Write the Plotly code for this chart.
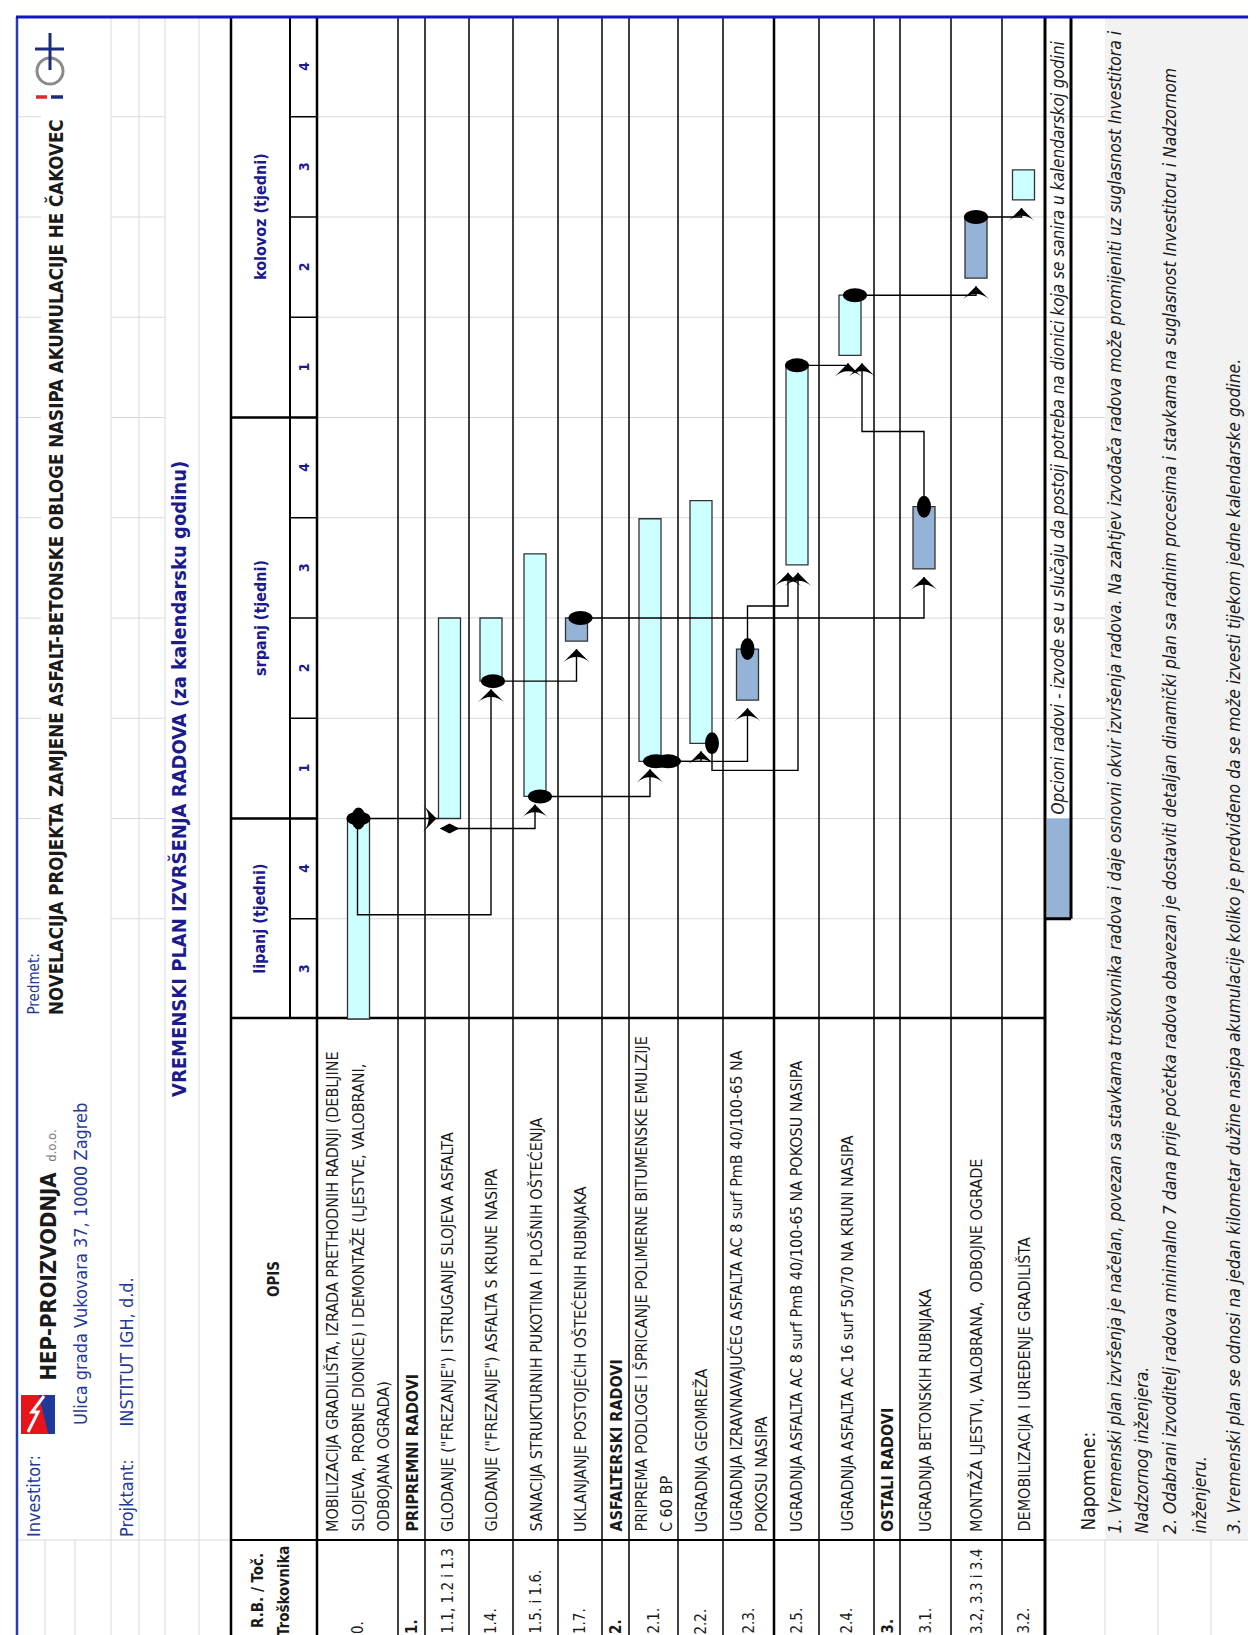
import plotly.graph_objects as go

# ---------------------------------------------------------------- data
months = ['lipanj (tjedni)', 'srpanj (tjedni)', 'kolovoz (tjedni)']
month_weeks = [[3, 4], [1, 2, 3, 4], [1, 2, 3, 4]]

row_codes = ['0.', '1.', '1.1, 1.2 i 1.3', '1.4.', '1.5. i 1.6.', '1.7.', '2.', '2.1.',
             '2.2.', '2.3.', '2.5.', '2.4.', '3.', '3.1.', '3.2, 3.3 i 3.4', '3.2.']
row_text = [
    ['MOBILIZACIJA GRADILIŠTA, IZRADA PRETHODNIH RADNJI (DEBLJINE',
     'SLOJEVA, PROBNE DIONICE) I DEMONTAŽE (LJESTVE, VALOBRANI,',
     'ODBOJANA OGRADA)'],
    ['PRIPREMNI RADOVI'],
    ['GLODANJE ("FREZANJE") I STRUGANJE SLOJEVA ASFALTA'],
    ['GLODANJE ("FREZANJE") ASFALTA S KRUNE NASIPA'],
    ['SANACIJA STRUKTURNIH PUKOTINA I PLOŠNIH OŠTEĆENJA'],
    ['UKLANJANJE POSTOJEĆIH OŠTEĆENIH RUBNJAKA'],
    ['ASFALTERSKI RADOVI'],
    ['PRIPREMA PODLOGE I ŠPRICANJE POLIMERNE BITUMENSKE EMULZIJE', 'C 60 BP'],
    ['UGRADNJA GEOMREŽA'],
    ['UGRADNJA IZRAVNAVAJUĆEG ASFALTA AC 8 surf PmB 40/100-65 NA', 'POKOSU NASIPA'],
    ['UGRADNJA ASFALTA AC 8 surf PmB 40/100-65 NA POKOSU NASIPA'],
    ['UGRADNJA ASFALTA AC 16 surf 50/70 NA KRUNI NASIPA'],
    ['OSTALI RADOVI'],
    ['UGRADNJA BETONSKIH RUBNJAKA'],
    ['MONTAŽA LJESTVI, VALOBRANA,  ODBOJNE OGRADE'],
    ['DEMOBILIZACIJA I UREĐENJE GRADILIŠTA'],
]
row_group = [False, True, False, False, False, False, True, False,
             False, False, False, False, True, False, False, False]

# bar start / end in weeks counted from the start of lipanj week 3
bar_start = [0.0, None, 2.0, 3.37, 2.22, 3.77, None, 2.57, 2.75, 3.18, 4.53, 6.62, None, 4.49, 7.39, 8.17]
bar_end = [2.0, None, 4.0, 4.0, 4.64, 4.0, None, 4.99, 5.17, 3.69, 6.52, 7.22, None, 5.11, 8.0, 8.47]
optional = [False, False, False, False, False, True, False, False,
            False, True, False, False, False, True, True, False]

# dependencies: predecessor row, which end of it, successor row
link_src = [0, 0, 2, 3, 4, 5, 7, 7, 8, 9, 10, 13, 11, 14]
link_from = ['end', 'end', 'start', 'start', 'start', 'end', 'start', 'start',
             'start', 'end', 'end', 'end', 'end', 'end']
link_dst = [2, 3, 4, 5, 7, 13, 8, 9, 10, 10, 11, 11, 14, 15]

notes = [
    '1. Vremenski plan izvršenja je načelan, povezan sa stavkama troškovnika radova i daje osnovni okvir izvršenja radova. Na zahtjev izvođača radova može promijeniti uz suglasnost Investitora i',
    'Nadzornog inženjera.',
    '2. Odabrani izvoditelj radova minimalno 7 dana prije početka radova obavezan je dostaviti detaljan dinamički plan sa radnim procesima i stavkama na suglasnost Investitoru i Nadzornom',
    'inženjeru.',
    '3. Vremenski plan se odnosi na jedan kilometar dužine nasipa akumulacije koliko je predviđeno da se može izvesti tijekom jedne kalendarske godine.',
]
legend_text = 'Opcioni radovi - izvode se u slučaju da postoji potreba na dionici koja se sanira u kalendarskoj godini'
title = 'VREMENSKI PLAN IZVRŠENJA RADOVA (za kalendarsku godinu)'
subject = 'NOVELACIJA PROJEKTA ZAMJENE ASFALT-BETONSKE OBLOGE NASIPA AKUMULACIJE HE ČAKOVEC'

# ---------------------------------------------------------------- layout geometry (pixels)
W, H = 1256, 1635
Y0, WPX = 1011, 100.25           # pixel row of week 0 and pixels per week
FONT = 'Liberation Sans Narrow, Arial Narrow, DejaVu Sans Condensed, Liberation Sans, sans-serif'
NAVY = '#1b1b8f'
BLUE = '#1f3a99'
INK = '#1a1a1a'
GRID = '#d9d9d9'
LIGHT = '#ccffff'
OPT = '#95b3d7'

row_edges = [309, 390, 417, 461, 505, 550, 594, 621, 670, 715, 766, 811, 866, 892, 943, 994, 1037]
bar_x = [350.5, None, 441.5, 483, 527, 568.5, None, 642, 693, 739.5, 789, 842, None, 916, 968, 1015.5]
routes = [
    dict(side=True, dot='hv'),
    dict(bend=1.04, sx=-1),
    dict(sdy=-0.1, dot='d'),
    dict(sx=2, dot='h'),
    dict(sx=5, dot='h'),
    dict(sx=4, dot='h'),
    dict(sx=8, dot='hh'),
    dict(sx=8),
    dict(sx=11, bend=2.48, dx=1, dot='v'),
    dict(bend=4.12, dx=-9, dot='v'),
    dict(dx=-2, dot='h'),
    dict(bend=5.86, dx=12, dot='v'),
    dict(sx=5, dot='h'),
    dict(dx=-2, dot='h'),
]


def px(x):
    return x / W


def py(y):
    return 1 - y / H


shapes = []
annotations = []


def line(x0, y0, x1, y1, color='black', width=1.5):
    shapes.append(dict(type='line', xref='paper', yref='paper', x0=px(x0), y0=py(y0),
                       x1=px(x1), y1=py(y1), line=dict(color=color, width=width), layer='below'))


def rect(x0, y0, x1, y1, fill, color=None, width=0):
    shapes.append(dict(type='rect', xref='paper', yref='paper', x0=px(x0), y0=py(y0),
                       x1=px(x1), y1=py(y1), fillcolor=fill, layer='below',
                       line=dict(color=color or fill, width=width)))


def vtext(x, y, text, size=14, color=INK, anchor='bottom', bold=False, italic=False, bg=None):
    annotations.append(dict(
        x=px(x), y=py(y), xref='paper', yref='paper', text=text, textangle=-90,
        xanchor='center', yanchor=anchor, showarrow=False, bgcolor=bg, borderpad=0,
        font=dict(family=FONT, size=size, color=color,
                  weight='bold' if bold else 'normal',
                  style='italic' if italic else 'normal')))


# ---------------------------------------------------------------- background, gridlines
rect(1097, 10, W, 1532, '#f2f2f2')
for gx in [103, 131, 157, 191]:
    line(gx, 10, gx, H, GRID, 1)
for gx in [37, 67, 1097, 1150, 1203]:
    line(gx, 1532, gx, H, GRID, 1)
line(10, 1532, 223, 1532, GRID, 1)
line(1037, 1532, W, 1532, GRID, 1)
for k in range(1, 11):
    yk = Y0 - k * WPX
    line(10, yk, 33, yk, GRID, 1)
    line(103, yk, 157, yk, GRID, 1)
for k in range(1, 10):
    yk = Y0 - k * WPX
    line(309, yk, 1097, yk, GRID, 1.2)

# ---------------------------------------------------------------- table frame
line(223, 10, 223, H, 'black', 2.5)
line(282, 10, 282, 1010, 'black', 2)
line(309, 10, 309, H, 'black', 2.5)
for e in row_edges[1:-1]:
    line(e, 10, e, H, 'black', 2.5 if e == 766 else 1.5)
line(1037, 10, 1037, H, 'black', 3)
line(223, 1010, 1037, 1010, 'black', 2.5)
line(223, 1532, 1037, 1532, 'black', 2)
for k in range(1, 10):
    yk = Y0 - k * WPX
    if k in (2, 6):
        line(223, yk, 309, yk, 'black', 2.5)
    else:
        line(282, yk, 309, yk, 'black', 1.5)

# legend for optional works
rect(1039, Y0 - 2 * WPX, 1062, Y0 - WPX, OPT)
line(1063, 10, 1063, Y0 - WPX, 'black', 3)
line(1037, Y0 - WPX, 1063, Y0 - WPX, 'black', 3)
vtext(1050, Y0 - 2 * WPX - 3, legend_text, size=17, italic=True)

# page border
line(9, 9, 9, H, '#2a3bb0', 2.5)
line(8, 9, W, 9, '#1414c8', 3)

# ---------------------------------------------------------------- header column texts
k0 = 0
for m, weeks in zip(months, month_weeks):
    ymid = Y0 - (k0 + len(weeks) / 2) * WPX
    vtext(252, ymid, m, size=16, color=NAVY, anchor='middle', bold=True)
    for j, w in enumerate(weeks):
        vtext(296, Y0 - (k0 + j + 0.5) * WPX, str(w), size=14, color=NAVY, anchor='middle', bold=True)
    k0 += len(weeks)
vtext(266, 1271, 'OPIS', size=15, anchor='middle', bold=True)
vtext(250, 1583, 'R.B. / Toč.', size=15, anchor='middle', bold=True)
vtext(276, 1583, 'Troškovnika', size=15, anchor='middle', bold=True)

for i, lines_ in enumerate(row_text):
    c = (row_edges[i] + row_edges[i + 1]) / 2
    n = len(lines_)
    for k, t in enumerate(lines_):
        vtext(c + (k - (n - 1) / 2) * 25, 1525, t, size=16, bold=row_group[i])
    vtext(c, 1627, row_codes[i], size=15, bold=row_group[i])

# ---------------------------------------------------------------- page header
vtext(25, 1530, 'Investitor:', size=18, color=BLUE, bg='white')
vtext(118, 1530, 'Projktant:', size=18, color=BLUE, bg='white')
vtext(40, 1374, 'HEP-PROIZVODNJA <span style="font-size:13px;color:#777;font-weight:normal"> d.o.o.</span>',
      size=22, bold=True, bg='white')
vtext(72, 1418, 'Ulica grada Vukovara 37, 10000 Zagreb', size=18, color=BLUE, bg='white')
vtext(118, 1420, 'INSTITUT IGH, d.d.', size=18, color=BLUE, bg='white')
vtext(25, 1008, 'Predmet:', size=15, color=BLUE, bg='white')
vtext(47, 1008, subject, size=18.6, bold=True, bg='white')
vtext(171, 771, title, size=20, color=NAVY, anchor='middle', bold=True, bg='white')

# HEP logo
rect(13, 1387, 47, 1426, '#e8141b')
shapes.append(dict(type='path', xref='paper', yref='paper', layer='below', fillcolor='#1d3a9a',
                   line=dict(width=0),
                   path=f'M{px(31)},{py(1387)} L{px(47)},{py(1387)} L{px(47)},{py(1426)} L{px(40)},{py(1426)} Z'))
shapes.append(dict(type='path', xref='paper', yref='paper', layer='below', line=dict(color='white', width=3),
                   path=f'M{px(20)},{py(1424)} L{px(30)},{py(1404)} L{px(24)},{py(1404)} L{px(36)},{py(1388)}'))
# IGH logo
line(28, 89, 39, 89, '#e3262b', 3.5)
line(43, 89, 55, 89, '#1c2c7c', 3.5)
shapes.append(dict(type='circle', xref='paper', yref='paper', layer='below',
                   x0=px(29), x1=px(55), y0=py(76), y1=py(50), line=dict(color='#8a8a8a', width=3)))
line(27, 41, 56, 41, '#1c2c7c', 3)
line(42, 25, 42, 62, '#1c2c7c', 3)

# notes
vtext(1079, 1524, 'Napomene:', size=19)
for x, t in zip([1106, 1133, 1162, 1191, 1225], notes):
    vtext(x, 1527, t, size=17.4, italic=True)

# ---------------------------------------------------------------- gantt bars
fig = go.Figure()
for opt, col in [(False, LIGHT), (True, OPT)]:
    idx = [i for i in range(len(bar_start)) if bar_start[i] is not None and optional[i] == opt]
    fig.add_trace(go.Bar(
        x=[bar_x[i] for i in idx],
        y=[bar_end[i] - bar_start[i] for i in idx],
        base=[bar_start[i] for i in idx],
        width=22,
        marker=dict(color=col, line=dict(color='#333333', width=1.3)),
        hoverinfo='skip', showlegend=False,
    ))

# dependency lines
lx, ly = [], []
up_x, up_y, right_x, right_y, dia_x, dia_y = [], [], [], [], [], []
AH = 8 / WPX
for s, f, d, r in zip(link_src, link_from, link_dst, routes):
    sx = bar_x[s] + r.get('sx', 0)
    sy = (bar_end[s] if f == 'end' else bar_start[s]) + r.get('sdy', 0)
    if r.get('side'):
        tx = bar_x[d] - 11 + 6
        lx += [sx, tx - 6, None]
        ly += [sy, sy, None]
        right_x.append(tx - 8)
        right_y.append(sy)
    else:
        dx = bar_x[d] + r.get('dx', 0)
        if 'bend' in r:
            lx += [sx, sx, dx, dx, None]
            ly += [sy, r['bend'], r['bend'], bar_start[d] - AH, None]
        else:
            lx += [sx, dx, dx, None]
            ly += [sy, sy, bar_start[d] - AH, None]
        up_x.append(dx)
        up_y.append(bar_start[d] - AH)
    dot = r.get('dot')
    hh, vv = 7 / WPX, 11 / WPX
    if dot in ('h', 'hv'):
        shapes.append(dict(type='circle', xref='x', yref='y', x0=sx - 12, x1=sx + 12, y0=sy - hh, y1=sy + hh,
                           fillcolor='black', line=dict(width=0)))
    if dot in ('v', 'hv'):
        shapes.append(dict(type='circle', xref='x', yref='y', x0=sx - 7, x1=sx + 7, y0=sy - vv, y1=sy + vv,
                           fillcolor='black', line=dict(width=0)))
    if dot == 'hh':
        for o in (-2, 10):
            shapes.append(dict(type='circle', xref='x', yref='y', x0=sx + o - 13, x1=sx + o + 13,
                               y0=sy - hh, y1=sy + hh, fillcolor='black', line=dict(width=0)))
    if dot == 'd':
        dia_x.append(sx)
        dia_y.append(sy)

fig.add_trace(go.Scatter(x=lx, y=ly, mode='lines', line=dict(color='black', width=1.4),
                         hoverinfo='skip', showlegend=False))
fig.add_trace(go.Scatter(x=up_x, y=up_y, mode='markers', hoverinfo='skip', showlegend=False,
                         marker=dict(symbol='arrow-wide', size=19, color='black', angle=0)))
fig.add_trace(go.Scatter(x=right_x, y=right_y, mode='markers', hoverinfo='skip', showlegend=False,
                         marker=dict(symbol='arrow-wide', size=19, color='black', angle=90)))
fig.add_trace(go.Scatter(x=dia_x, y=dia_y, mode='markers', hoverinfo='skip', showlegend=False,
                         marker=dict(symbol='diamond-wide', size=14, color='black')))

fig.update_layout(
    width=W, height=H,
    margin=dict(l=0, r=0, t=0, b=0),
    paper_bgcolor='white', plot_bgcolor='white',
    barmode='overlay', showlegend=False,
    xaxis=dict(range=[0, W], visible=False, fixedrange=True),
    yaxis=dict(range=[(Y0 - H) / WPX, Y0 / WPX], visible=False, fixedrange=True),
    shapes=shapes, annotations=annotations,
)

fig.write_html('out.html')
